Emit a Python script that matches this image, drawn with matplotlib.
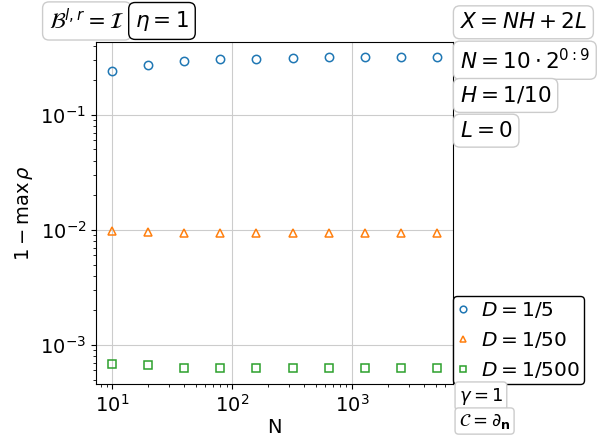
import numpy as np
import matplotlib.pyplot as plt

# datos
N = [10, 20, 40, 80, 160, 320, 640, 1280, 2560, 5120]
d_5 = [0.238, 0.270, 0.294, 0.308, 0.308, 0.314, 0.315, 0.315, 0.315, 0.315]
d_50 = [0.0097, 0.0096, 0.0094, 0.0094, 0.0094, 0.0094, 0.0094, 0.0094, 0.0094, 0.0094]
d_500 = [6.86e-4, 6.68e-4, 6.37e-4, 6.37e-4, 6.25e-4, 6.25e-4, 6.25e-4, 6.25e-4, 6.25e-4, 6.25e-4]
etiquetas = [r"$D=1/5$", r"$D=1/50$", r"$D=1/500$"]

plt.rcParams["font.size"] = 14

fig = plt.figure(figsize=(5.98, 4.46), dpi=100)
ax = fig.add_axes([0.1605, 0.139, 0.597, 0.767])

series = [d_5, d_50, d_500]
marcas = ["o", "^", "s"]
colores = ["C0", "C1", "C2"]
for ys, m, c, lab in zip(series, marcas, colores, etiquetas):
    ax.plot(N, ys, linestyle="none", marker=m, markersize=6,
            markerfacecolor="none", markeredgecolor=c, markeredgewidth=1.1, label=lab)

ax.set_xscale("log")
ax.set_yscale("log")
ax.grid(True, which="major", color="0.8")
ax.set_xlabel("N", labelpad=2)
ax.set_ylabel(r"$1-\max\,\rho$")

leg = ax.legend(loc="lower left", bbox_to_anchor=(1.0, 0.0), borderaxespad=0,
                handlelength=0.6, handletextpad=0.6, borderpad=0.2,
                labelspacing=0.5, edgecolor="k", framealpha=1, fancybox=True,
                fontsize=14.5, markerscale=0.8)

caja_gris = dict(boxstyle="round,pad=0.3", facecolor="white", edgecolor="0.8")
caja_negra = dict(boxstyle="round,pad=0.3", facecolor="white", edgecolor="k")
caja_chica = dict(boxstyle="round,pad=0.2", facecolor="white", edgecolor="0.8")

fig.text(0.082, 0.953, r"$\mathcal{B}^{l,r}=\mathcal{I}$", bbox=caja_gris, va="center", fontsize=15.5)
fig.text(0.226, 0.953, r"$\eta=1$", bbox=caja_negra, va="center", fontsize=15.5)

der = 0.769
fig.text(der, 0.95, r"$X=NH+2L$", bbox=caja_gris, va="center", fontsize=15.5)
fig.text(der, 0.865, r"$N=10\cdot2^{0:9}$", bbox=caja_gris, va="center", fontsize=15.5)
fig.text(der, 0.786, r"$H=1/10$", bbox=caja_gris, va="center", fontsize=15.5)
fig.text(der, 0.707, r"$L=0$", bbox=caja_gris, va="center", fontsize=15.5)

fig.text(0.767, 0.112, r"$\gamma=1$", bbox=caja_chica, va="center", fontsize=13)
fig.text(0.767, 0.056, r"$\mathcal{C}=\partial_{\mathbf{n}}$", bbox=caja_chica, va="center", fontsize=13)

fig.savefig("out.png", dpi=100)
